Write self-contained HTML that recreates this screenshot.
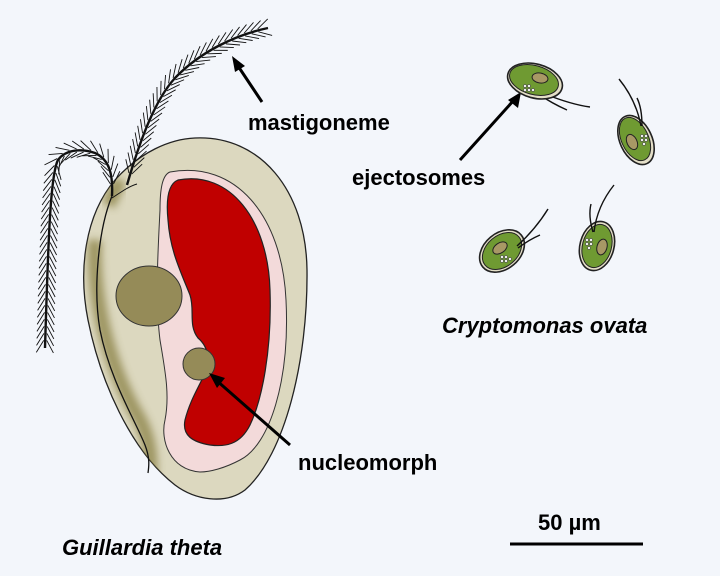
<!DOCTYPE html>
<html><head><meta charset="utf-8"><style>
body{margin:0;background:#f3f6fb;}
svg{display:block}
text{font-family:"Liberation Sans",sans-serif;font-weight:bold;fill:#000}
</style></head><body>
<svg id="svg" width="720" height="576" viewBox="0 0 720 576">
<defs>
<filter id="blur" x="-50%" y="-50%" width="200%" height="200%"><feGaussianBlur stdDeviation="4"/></filter>
<clipPath id="cellclip"><path d="M195,138 C260,135 306,190 307,270 C308,360 285,455 245,490 C225,505 195,500 175,485 C130,450 100,380 88,320 C78,270 85,215 115,180 C140,152 170,139 195,138Z"/></clipPath>
</defs>
<g>
<path d="M195,138 C260,135 306,190 307,270 C308,360 285,455 245,490 C225,505 195,500 175,485 C130,450 100,380 88,320 C78,270 85,215 115,180 C140,152 170,139 195,138Z" fill="#dcd8bf" stroke="#222" stroke-width="1.3"/>
<g clip-path="url(#cellclip)">
<path d="M95,240 C92,300 110,370 140,420 C150,440 152,460 150,480" fill="none" stroke="#857c3e" stroke-width="14" opacity=".7" filter="url(#blur)"/>
<path d="M120,180 C115,190 112,198 108,205" fill="none" stroke="#857c3e" stroke-width="14" opacity=".7" filter="url(#blur)"/>
</g>
<path d="M170,172 C235,160 282,215 286,300 C290,380 270,445 240,460 C225,468 210,472 200,472 C170,470 160,440 165,420 C170,395 165,370 160,340 C155,300 158,250 160,210 C160,190 162,175 170,172Z" fill="#f3dada" stroke="#333" stroke-width="1"/>
<path d="M178,180 C230,170 268,220 270,290 C272,350 262,400 250,425 C240,445 225,447 210,445 C192,442 182,435 185,420 C190,400 200,385 204,375 C210,365 210,348 198,338 C188,325 195,310 190,295 C180,270 170,250 168,220 C166,200 168,184 178,180Z" fill="#c00000" stroke="#222" stroke-width="1.2"/>
<ellipse cx="149" cy="296" rx="33" ry="30" fill="#958b58" stroke="#333"/>
<circle cx="199" cy="364" r="16" fill="#958b58" stroke="#333"/>
<path d="M112,196 C98,230 93,290 100,330 C110,380 135,420 145,445 C150,458 149,466 148,473" fill="none" stroke="#111" stroke-width="1.3"/>
<path d="M112,198 C124,190 130,186 137,184" fill="none" stroke="#111" stroke-width="1"/>
<path id="flagL" d="M112,196 C113,175 110,160 95,153 C80,148 65,150 58,160 C50,175 48,250 45,348" fill="none" stroke="#111" stroke-width="2.4"/>
<path id="flagR" d="M127,185 C140,140 155,100 175,78 C200,52 235,35 268,28" fill="none" stroke="#111" stroke-width="2.4"/>
<g id="hairs" stroke="#111" stroke-width="0.9" fill="none"></g>
</g>
<g>
<path d="M262,102 L238,66" stroke="#000" stroke-width="3" fill="none"/><polygon points="232,56 245,66 235,72" fill="#000"/>
<text x="248" y="130" font-size="22">mastigoneme</text>
<path d="M460,160 L514,100" stroke="#000" stroke-width="3" fill="none"/><polygon points="521,92 518,108 508,100" fill="#000"/>
<text x="352" y="185" font-size="22">ejectosomes</text>
<path d="M290,445 L216,380" stroke="#000" stroke-width="3" fill="none"/><polygon points="209,373 225,378 217,388" fill="#000"/>
<text x="298" y="470" font-size="22">nucleomorph</text>
<text x="442" y="333" font-size="22" font-style="italic">Cryptomonas ovata</text>
<text x="62" y="555" font-size="22" font-style="italic">Guillardia theta</text>
<text x="538" y="530" font-size="22">50 µm</text>
<line x1="510" y1="544" x2="643" y2="544" stroke="#000" stroke-width="3"/>
</g>
<g stroke="#222">
<g>
<path d="M540,95 C550,102 558,106 567,110 M545,94 C560,100 575,105 590,107" fill="none" stroke="#111" stroke-width="1.4"/>
<ellipse cx="535" cy="81" rx="28" ry="17" transform="rotate(15 535 81)" fill="#e4dfc8" stroke-width="1.6"/>
<ellipse cx="534" cy="80" rx="25" ry="14.5" transform="rotate(15 534 80)" fill="#6f9a32" stroke-width="1"/>
<ellipse cx="540" cy="78" rx="8" ry="5" transform="rotate(10 540 78)" fill="#a89865"/>
<g fill="#eee" stroke-width=".5"><circle cx="525" cy="86" r="1.6"/><circle cx="529" cy="86" r="1.6"/><circle cx="525" cy="90" r="1.6"/><circle cx="529" cy="90" r="1.6"/><circle cx="533" cy="90" r="1.6"/></g>
</g>
<g>
<ellipse cx="636" cy="140" rx="16" ry="26" transform="rotate(-25 636 140)" fill="#e4dfc8" stroke-width="1.6"/>
<ellipse cx="635" cy="139" rx="13.5" ry="23" transform="rotate(-25 635 139)" fill="#6f9a32" stroke-width="1"/>
<ellipse cx="632" cy="142" rx="5" ry="8" transform="rotate(-25 632 142)" fill="#a89865"/>
<g fill="#eee" stroke-width=".5"><circle cx="642" cy="136" r="1.6"/><circle cx="646" cy="136" r="1.6"/><circle cx="642" cy="140" r="1.6"/><circle cx="646" cy="140" r="1.6"/><circle cx="644" cy="144" r="1.6"/></g>
<path d="M641,126 C638,110 632,95 619,79 M642,126 C642,115 641,106 637,98" fill="none" stroke="#111" stroke-width="1.4"/>
</g>
<g>
<ellipse cx="502" cy="251" rx="25" ry="18" transform="rotate(-40 502 251)" fill="#e4dfc8" stroke-width="1.6"/>
<ellipse cx="502" cy="251" rx="22" ry="15.5" transform="rotate(-40 502 251)" fill="#6f9a32" stroke-width="1"/>
<ellipse cx="500" cy="248" rx="8" ry="5" transform="rotate(-35 500 248)" fill="#a89865"/>
<g fill="#eee" stroke-width=".5"><circle cx="502" cy="257" r="1.6"/><circle cx="506" cy="257" r="1.6"/><circle cx="502" cy="261" r="1.6"/><circle cx="506" cy="261" r="1.6"/><circle cx="510" cy="259" r="1.6"/></g>
<path d="M517,246 C528,236 540,222 548,209 M518,248 C526,242 533,238 540,235" fill="none" stroke="#111" stroke-width="1.4"/>
</g>
<g>
<ellipse cx="597" cy="246" rx="17" ry="25" transform="rotate(15 597 246)" fill="#e4dfc8" stroke-width="1.6"/>
<ellipse cx="597" cy="246" rx="14.5" ry="22" transform="rotate(15 597 246)" fill="#6f9a32" stroke-width="1"/>
<ellipse cx="602" cy="247" rx="5" ry="8" transform="rotate(15 602 247)" fill="#a89865"/>
<g fill="#eee" stroke-width=".5"><circle cx="587" cy="240" r="1.6"/><circle cx="591" cy="240" r="1.6"/><circle cx="587" cy="244" r="1.6"/><circle cx="591" cy="244" r="1.6"/><circle cx="589" cy="248" r="1.6"/></g>
<path d="M594,232 C596,215 602,200 614,185 M593,232 C590,222 589,212 591,204" fill="none" stroke="#111" stroke-width="1.4"/>
</g>
</g>
</svg>
<script>
var g=document.getElementById('hairs');
['flagL','flagR'].forEach(function(id){
  var p=document.getElementById(id),L=p.getTotalLength();
  for(var s=12;s<L-4;s+=7){
    var a=p.getPointAtLength(s),b=p.getPointAtLength(Math.min(L,s+1));
    var tx=b.x-a.x,ty=b.y-a.y,m=Math.hypot(tx,ty)||1;tx/=m;ty/=m;
    var nx=-ty,ny=tx,len=15;
    [1,-1].forEach(function(sg){
      var x1=a.x+sg*nx*1.5,y1=a.y+sg*ny*1.5;
      var x2=a.x+len*(0.82*tx+sg*0.57*nx),y2=a.y+len*(0.82*ty+sg*0.57*ny);
      var l=document.createElementNS('http://www.w3.org/2000/svg','line');
      l.setAttribute('x1',x1);l.setAttribute('y1',y1);l.setAttribute('x2',x2);l.setAttribute('y2',y2);
      
      
      g.appendChild(l);
    });
  }
});
</script>
</body></html>
